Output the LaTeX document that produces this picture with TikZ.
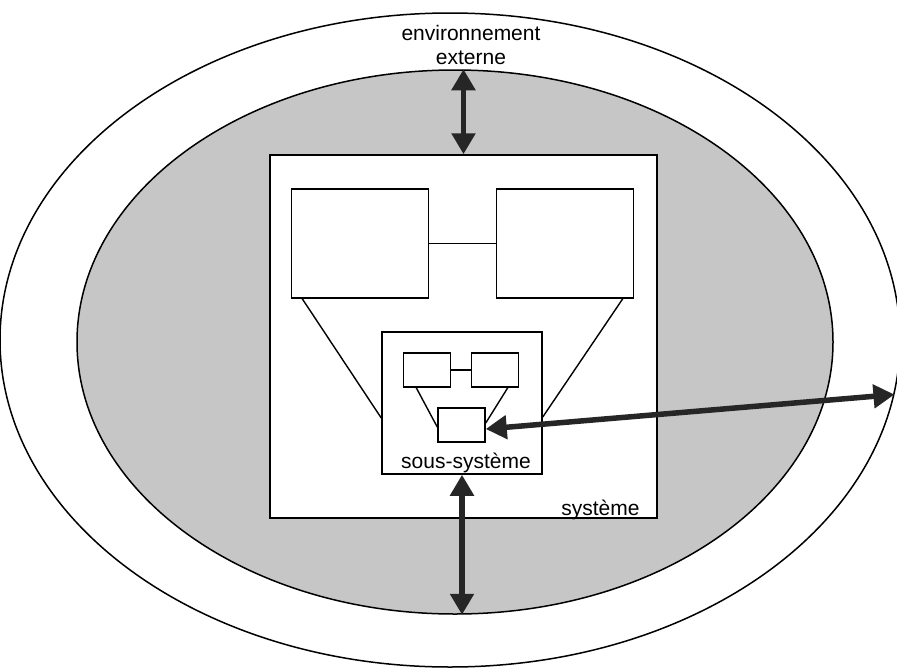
\documentclass[tikz,border=0pt]{standalone}
\usepackage{fontspec}
\setmainfont{Liberation Sans}
\usetikzlibrary{positioning, arrows.meta, shapes.geometric}

\begin{document}
\begin{tikzpicture}[
    x=1pt, y=-1pt,
    every node/.style={font=\fontsize{21}{24}\selectfont},
    zone/.style={ellipse, draw, line width=1.5pt, inner sep=0pt},
    boite/.style={draw, fill=white, line width=1.5pt, inner sep=0pt},
    lien/.style={line width=1.4pt},
    fleche/.style={{Triangle[length=21pt, width=23pt]}-{Triangle[length=21pt, width=23pt]}, line width=5.5pt, black!85}
]

\useasboundingbox (0,0) rectangle (897,670);

% Environnement
\node[zone, fill=white, minimum width=900pt, minimum height=654pt] (env) at (450,340) {};
\node[zone, fill=gray!45, minimum width=756pt, minimum height=544pt] (inner) at (455,342) {};
\node[align=center] (envlabel) at (471,45) {environnement\\externe};

% Systeme
\node[boite, minimum width=387pt, minimum height=363pt] (sys) at (463.5,336.5) {};
\node[anchor=base east, inner sep=0pt] (syslabel) at ([xshift=-18pt, yshift=3pt]sys.south east) {système};

\node[boite, minimum width=137pt, minimum height=109pt] (A) at (360,243.5) {};
\node[boite, minimum width=137pt, minimum height=109pt] (B) at (565,243.5) {};
\draw[lien] (A) -- (B);

% Sous-systeme
\node[boite, minimum width=160pt, minimum height=142pt] (sub) at (462,403) {};
\node[anchor=base, inner sep=0pt] (sublabel) at ([xshift=4pt, yshift=6pt]sub.south) {sous-système};

\draw[lien] ([xshift=11.5pt]A.south west) -- ([yshift=-15pt]sub.west);
\draw[lien] ([xshift=-11.5pt]B.south east) -- ([yshift=-14pt]sub.east);

\node[boite, minimum width=47pt, minimum height=34pt] (a) at (427,370) {};
\node[boite, minimum width=47pt, minimum height=34pt] (b) at (495,370) {};
\node[boite, minimum width=47pt, minimum height=34pt] (c) at (461.5,425) {};
\draw[lien] (a) -- (b);
\draw[lien] ([xshift=13.5pt]a.south west) -- ([yshift=-2pt]c.west);
\draw[lien] ([xshift=-11.5pt]b.south east) -- ([yshift=2pt]c.east);

% Echanges
\draw[fleche] (inner.north -| sys.north) -- (sys.north);
\draw[fleche] (sub.south) -- (sub.south |- inner.south);
\draw[fleche] ([yshift=-4pt]c.east) -- (env.-7.7);

\end{tikzpicture}
\end{document}
